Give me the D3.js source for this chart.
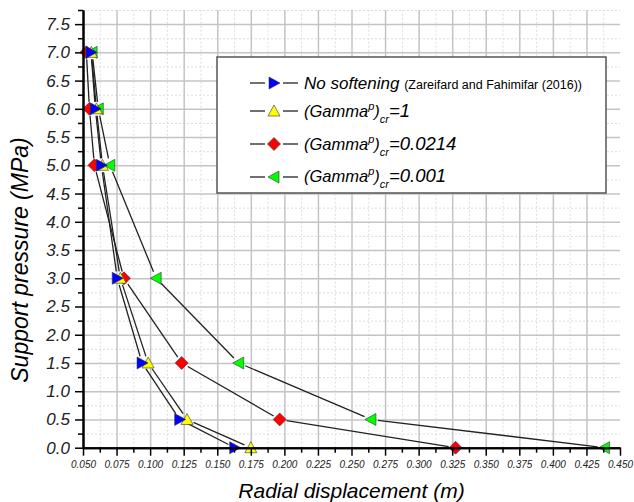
<!DOCTYPE html>
<html>
    <head>
        <script src="https://d3js.org/d3.v7.min.js"></script>
        <style>
            body { margin: 0; background: #fff; }
            text { font-family: "Liberation Sans", Arial, sans-serif; }
            .majorGrid line { stroke: #c4c4c4; stroke-width: 1.5; }
            .minorGrid line { stroke: #dcdcdc; stroke-width: 1; stroke-dasharray: 2,2; }
            .majorGrid .domain, .minorGrid .domain { stroke: none; }
            .axis .domain { stroke: #000; stroke-width: 2; }
            .axis line { stroke: #000; stroke-width: 1.5; }
            .axis text { font-style: italic; fill: #222; }
        </style>
    </head>
    <body>
        <svg id="chart" width=634 height=502></svg>
        <script>
            // support pressure levels (MPa)
            const pressures = [7.0, 6.0, 5.0, 3.0, 1.5, 0.5, 0.0];

            // radial displacement (m)
            const noSoftening = [0.0560, 0.0592, 0.0637, 0.0755, 0.0940, 0.1220, 0.1630];
            const gammaCr1 = [0.0562, 0.0600, 0.0645, 0.0778, 0.0985, 0.1275, 0.1750];
            const gammaCr0214 = [0.0525, 0.0548, 0.0585, 0.0805, 0.1235, 0.1965, 0.3275];
            const gammaCr001 = [0.0568, 0.0614, 0.0700, 0.1045, 0.1660, 0.2645, 0.4385];

            const xTicks = d3.range(0, 17).map(i => 0.05 + i * 0.025);
            const yTicks = d3.range(0, 16).map(i => i * 0.5);

            const svg = d3.select("#chart");
            const margins = { top: 10, right: 14, bottom: 54.3, left: 83 };
            const width = +svg.attr("width");
            const height = +svg.attr("height");
            const chartWidth = width - margins.left - margins.right;
            const chartHeight = height - margins.top - margins.bottom;

            const xScale = d3.scaleLinear().domain([0.05, 0.45]).range([margins.left, width - margins.right]);
            const yScale = d3.scaleLinear().domain([0, 7.75]).range([height - margins.bottom, margins.top]);

            // grid lines
            const xMinor = d3.range(0, 32).map(i => 0.0625 + i * 0.025).filter(v => v < 0.45);
            const yMinor = d3.range(0, 16).map(i => 0.25 + i * 0.5);

            svg.append("g").attr("class", "minorGrid")
               .attr("transform", `translate(0, ${height - margins.bottom})`)
               .call(d3.axisBottom(xScale).tickValues(xMinor).tickSize(-chartHeight).tickFormat(""));
            svg.append("g").attr("class", "minorGrid")
               .attr("transform", `translate(${margins.left}, 0)`)
               .call(d3.axisLeft(yScale).tickValues(yMinor).tickSize(-chartWidth).tickFormat(""));
            svg.append("g").attr("class", "majorGrid")
               .attr("transform", `translate(0, ${height - margins.bottom})`)
               .call(d3.axisBottom(xScale).tickValues(xTicks.slice(1, -1)).tickSize(-chartHeight).tickFormat(""));
            svg.append("g").attr("class", "majorGrid")
               .attr("transform", `translate(${margins.left}, 0)`)
               .call(d3.axisLeft(yScale).tickValues(yTicks.slice(1)).tickSize(-chartWidth).tickFormat(""));

            // marker shapes
            const s = 6;
            const shapes = {
                right: `M${-s + 1},${-s}L${s},0L${-s + 1},${s}Z`,
                left: `M${s - 1},${-s}L${-s},0L${s - 1},${s}Z`,
                up: `M0,${-s}L${s},${s - 1}L${-s},${s - 1}Z`,
                diamond: `M0,${-s - 0.5}L${s + 0.5},0L0,${s + 0.5}L${-s - 0.5},0Z`
            };

            const series = [
                { name: "green", values: gammaCr001, color: "#00ff00", shape: "left" },
                { name: "red", values: gammaCr0214, color: "#ff0000", shape: "diamond" },
                { name: "yellow", values: gammaCr1, color: "#ffff00", shape: "up" },
                { name: "blue", values: noSoftening, color: "#0000ff", shape: "right" }
            ];

            const gap = 7;
            const plot = svg.append("g");
            series.forEach(sr => {
                const pts = sr.values.map((v, i) => [xScale(v), yScale(pressures[i])]);
                for (let i = 0; i < pts.length - 1; i++) {
                    const [x1, y1] = pts[i], [x2, y2] = pts[i + 1];
                    const len = Math.hypot(x2 - x1, y2 - y1);
                    if (len <= 2 * gap) continue;
                    const ux = (x2 - x1) / len, uy = (y2 - y1) / len;
                    plot.append("line")
                        .attr("x1", x1 + ux * gap).attr("y1", y1 + uy * gap)
                        .attr("x2", x2 - ux * gap).attr("y2", y2 - uy * gap)
                        .attr("stroke", "#222").attr("stroke-width", 1.3);
                }
            });
            series.forEach(sr => {
                plot.selectAll(null).data(sr.values).enter().append("path")
                    .attr("d", shapes[sr.shape])
                    .attr("transform", (d, i) => `translate(${xScale(d)}, ${yScale(pressures[i])})`)
                    .attr("fill", sr.color)
                    .attr("stroke", "#333").attr("stroke-width", 0.6);
            });

            // axes
            const fmtX = d3.format(".3f"), fmtY = d3.format(".1f");
            svg.append("g").attr("class", "axis")
               .attr("transform", `translate(0, ${height - margins.bottom})`)
               .call(d3.axisBottom(xScale).tickValues(xMinor).tickSize(5).tickFormat("").tickSizeOuter(0));
            svg.append("g").attr("class", "axis")
               .attr("transform", `translate(0, ${height - margins.bottom})`)
               .call(d3.axisBottom(xScale).tickValues(xTicks).tickSize(8).tickPadding(5).tickFormat(fmtX).tickSizeOuter(0))
               .selectAll("text").attr("font-size", 10);
            svg.append("g").attr("class", "axis")
               .attr("transform", `translate(${margins.left}, 0)`)
               .call(d3.axisLeft(yScale).tickValues(yMinor).tickSize(5).tickFormat("").tickSizeOuter(0));
            svg.append("g").attr("class", "axis")
               .attr("transform", `translate(${margins.left}, 0)`)
               .call(d3.axisLeft(yScale).tickValues(yTicks).tickSize(8).tickPadding(5).tickFormat(fmtY).tickSizeOuter(0))
               .selectAll("text").attr("font-size", 17);

            // axis titles
            svg.append("text")
               .attr("x", (margins.left + width - margins.right) / 2).attr("y", 498)
               .attr("text-anchor", "middle").attr("font-size", 21).attr("font-style", "italic")
               .text("Radial displacement (m)");
            svg.append("text")
               .attr("transform", "translate(28, 260) rotate(-90)")
               .attr("text-anchor", "middle").attr("font-size", 23).attr("font-style", "italic")
               .text("Support pressure (MPa)");

            // legend
            const legend = svg.append("g");
            legend.append("rect")
                  .attr("x", 217).attr("y", 57).attr("width", 389).attr("height", 136)
                  .attr("fill", "#fff").attr("stroke", "#555").attr("stroke-width", 1.5);
            const legendRows = [
                { sr: series[3], y: 83 },
                { sr: series[2], y: 111 },
                { sr: series[1], y: 144 },
                { sr: series[0], y: 177 }
            ];
            legendRows.forEach(r => {
                legend.append("line").attr("x1", 250).attr("x2", 265).attr("y1", r.y).attr("y2", r.y)
                      .attr("stroke", "#222").attr("stroke-width", 1.3);
                legend.append("line").attr("x1", 283).attr("x2", 298).attr("y1", r.y).attr("y2", r.y)
                      .attr("stroke", "#222").attr("stroke-width", 1.3);
                legend.append("path").attr("d", shapes[r.sr.shape])
                      .attr("transform", `translate(274, ${r.y})`)
                      .attr("fill", r.sr.color).attr("stroke", "#333").attr("stroke-width", 0.6);
            });

            const t1 = legend.append("text").attr("x", 304).attr("y", 89).attr("font-size", 17).attr("font-style", "italic");
            t1.append("tspan").text("No softening ");
            t1.append("tspan").attr("font-size", 12.5).attr("font-style", "normal").text("(Zareifard and Fahimifar (2016))");

            const gammaLabels = [{ y: 116.5, v: "=1" }, { y: 150, v: "=0.0214" }, { y: 182, v: "=0.001" }];
            gammaLabels.forEach(g => {
                const t = legend.append("text").attr("x", 304).attr("y", g.y).attr("font-size", 16.5).attr("font-style", "italic");
                t.append("tspan").text("(Gamma");
                t.append("tspan").attr("font-size", 11).attr("dy", -7).text("p");
                t.append("tspan").attr("dy", 7).text(")");
                t.append("tspan").attr("font-size", 11).attr("dy", 6).text("cr");
                t.append("tspan").attr("dy", -6).attr("font-size", 18.5).text(g.v);
            });
        </script>
    </body>
</html>
